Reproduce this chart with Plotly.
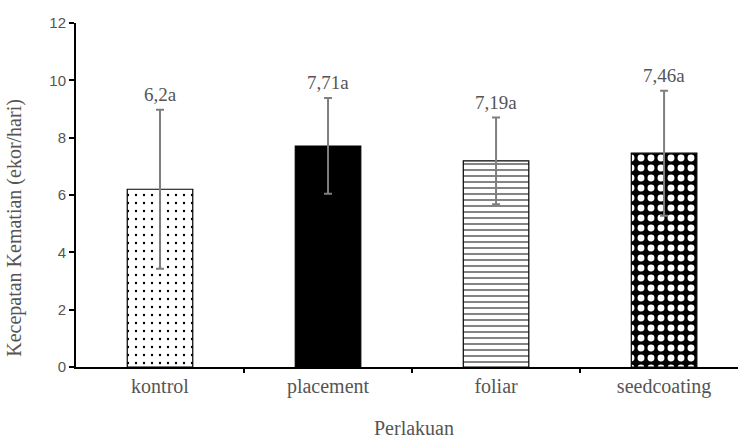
import plotly.graph_objects as go

# Treatment groups and mean death speed (ekor/hari) with standard deviations
categories = ["kontrol", "placement", "foliar", "seedcoating"]
means = [6.2, 7.71, 7.19, 7.46]
sds = [2.77, 1.67, 1.51, 2.18]
letters = ["a", "a", "a", "a"]
y_ticks = [0, 2, 4, 6, 8, 10, 12]

# Fill style per treatment
patterns = [
    dict(shape=".", fgcolor="black", bgcolor="white", size=8, solidity=0.07),
    dict(shape="", fgcolor="black", bgcolor="black", size=8, solidity=0.3),
    dict(shape="-", fgcolor="#444444", bgcolor="white", size=6, solidity=0.22),
    dict(shape=".", fgcolor="white", bgcolor="black", size=10, solidity=0.38),
]
fill_colors = ["white", "black", "white", "black"]

serif = "Liberation Serif, Times New Roman, serif"
sans = "Liberation Sans, Arial, sans-serif"
text_grey = "#555555"

fig = go.Figure()
for i, cat in enumerate(categories):
    p = patterns[i]
    fig.add_trace(go.Bar(
        x=[i],
        y=[means[i]],
        name=cat,
        width=0.39,
        marker=dict(
            color=fill_colors[i],
            line=dict(color="black", width=1.2),
            pattern=dict(shape=p["shape"], fgcolor=p["fgcolor"],
                         bgcolor=p["bgcolor"], size=p["size"],
                         solidity=p["solidity"], fillmode="replace"),
        ),
        error_y=dict(type="data", array=[sds[i]], visible=True,
                     color="#7f7f7f", thickness=2, width=4),
        showlegend=False,
    ))

# Mean value labels with significance letters above each error bar
for i, (m, s, l) in enumerate(zip(means, sds, letters)):
    label = f"{m:g}".replace(".", ",") + l
    fig.add_annotation(
        x=i, y=m + s, text=label, showarrow=False,
        yanchor="bottom", yshift=3,
        font=dict(family=serif, size=19, color=text_grey),
    )

# Axis titles
fig.add_annotation(
    xref="paper", yref="paper", x=0.511, y=-0.177,
    text="Perlakuan", showarrow=False, yanchor="middle",
    font=dict(family=serif, size=20, color=text_grey),
)
fig.add_annotation(
    xref="paper", yref="paper", x=-0.092, y=0.405,
    text="Kecepatan Kematian (ekor/hari)", showarrow=False,
    textangle=-90, xanchor="center", yanchor="middle",
    font=dict(family=serif, size=20, color=text_grey),
)

fig.update_layout(
    width=738, height=439,
    margin=dict(l=76, r=0, t=23, b=72),
    plot_bgcolor="white", paper_bgcolor="white",
    barmode="overlay",
)
fig.update_xaxes(
    range=[-0.5, 3.44],
    tickmode="array",
    tickvals=list(range(len(categories))),
    ticktext=categories,
    ticks="", showline=True, linecolor="black", linewidth=2,
    showgrid=False, zeroline=False,
    tickfont=dict(family=serif, size=20, color=text_grey),
)
# Tick marks between categories on a secondary, label-free axis
fig.update_layout(xaxis2=dict(
    overlaying="x", matches="x", side="bottom", anchor="y",
    tickvals=[0.5, 1.5, 2.5], showticklabels=False,
    ticks="outside", ticklen=5, tickwidth=2, tickcolor="black",
    showline=False, showgrid=False, zeroline=False,
))
fig.add_trace(go.Scatter(x=[0], y=[0], xaxis="x2", mode="markers",
                         marker=dict(opacity=0), showlegend=False,
                         hoverinfo="skip"))
fig.update_yaxes(
    range=[0, 12],
    tickvals=y_ticks,
    ticks="outside", ticklen=5, tickwidth=2, tickcolor="black",
    showline=True, linecolor="black", linewidth=2,
    showgrid=False, zeroline=False,
    tickfont=dict(family=sans, size=15, color=text_grey),
)

fig.write_html("out.html")
